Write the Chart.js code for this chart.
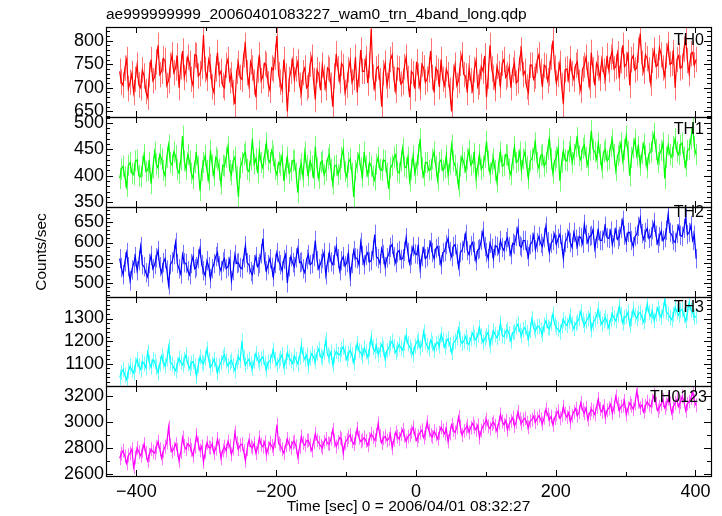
<!DOCTYPE html>
<html>
<head>
<meta charset="utf-8">
<title>ae999999999_20060401083227_wam0_trn_4band_long.qdp</title>
<script src="https://cdn.jsdelivr.net/npm/chart.js@4.4.1/dist/chart.umd.min.js"></script>
<style>
  html, body { margin: 0; padding: 0; background: #fff; }
  #wrap { position: relative; width: 722px; height: 516px; overflow: hidden; }
  .panel { position: absolute; left: 0; width: 722px; }
  .panel canvas { display: block; }
</style>
</head>
<body>
<div id="wrap"></div>
<script>
// WAM light curves, 2.5 s bins starting at t0 (sec from 2006/04/01 08:32:27)
const t0 = -424;
const binSize = 2.5;

const th0 = [
  735, 712, 705, 742, 760, 698, 712, 730, 690, 718, 748, 706, 700, 738, 725, 692, 680, 728, 760, 715,
  722, 755, 790, 728, 735, 762, 758, 705, 715, 748, 770, 732, 742, 768, 700, 745, 778, 722, 738, 765,
  752, 718, 705, 770, 768, 725, 730, 745, 812, 738, 720, 760, 745, 702, 690, 740, 775, 728, 735, 705,
  700, 748, 760, 715, 728, 690, 665, 735, 752, 722, 718, 770, 790, 732, 705, 755, 742, 712, 680, 738,
  770, 715, 725, 752, 748, 708, 695, 742, 738, 765, 810, 728, 712, 695, 760, 725, 650, 718, 735, 758,
  718, 740, 755, 705, 690, 732, 742, 700, 705, 750, 765, 715, 675, 738, 728, 695, 748, 722, 700, 742,
  738, 705, 660, 725, 772, 740, 715, 752, 745, 690, 705, 738, 758, 712, 722, 765, 690, 728, 780, 735,
  735, 762, 710, 748, 825, 722, 700, 740, 745, 715, 660, 732, 752, 705, 725, 760, 770, 718, 695, 742,
  740, 708, 712, 745, 765, 720, 680, 735, 730, 698, 755, 725, 700, 750, 742, 712, 718, 738, 778, 722,
  690, 742, 735, 702, 760, 718, 705, 740, 728, 695, 650, 722, 748, 705, 715, 752, 770, 728, 725, 690,
  742, 715, 695, 738, 758, 702, 712, 745, 735, 768, 680, 725, 790, 740, 722, 698, 745, 730, 705, 752,
  760, 722, 728, 745, 700, 738, 752, 710, 715, 762, 780, 728, 735, 702, 690, 748, 748, 718, 725, 758,
  770, 735, 702, 748, 745, 715, 730, 765, 800, 742, 710, 728, 752, 705, 665, 738, 740, 718, 762, 730,
  718, 748, 755, 712, 695, 740, 748, 765, 728, 705, 775, 738, 705, 752, 742, 720, 760, 735, 720, 768,
  738, 765, 778, 740, 745, 772, 720, 758, 790, 745, 750, 775, 705, 760, 768, 738, 742, 780, 815, 752,
  735, 770, 762, 738, 710, 758, 780, 745, 748, 785, 770, 742, 725, 768, 792, 750, 752, 775, 700, 760,
  768, 742, 745, 782, 805, 758, 730, 772, 775, 748, 760
];
const th1 = [
  395, 412, 418, 398, 380, 420, 425, 405, 402, 428, 430, 400, 398, 418, 440, 408, 410, 425, 385, 415,
  445, 422, 415, 440, 432, 410, 400, 435, 458, 425, 420, 445, 438, 412, 405, 430, 475, 428, 412, 440,
  428, 405, 395, 425, 440, 418, 372, 410, 425, 438, 410, 392, 448, 420, 400, 435, 430, 412, 385, 420,
  418, 435, 455, 410, 402, 428, 435, 398, 360, 415, 425, 440, 445, 412, 408, 430, 470, 422, 432, 405,
  448, 425, 415, 440, 462, 430, 425, 448, 438, 412, 402, 425, 420, 438, 390, 415, 435, 405, 410, 428,
  430, 405, 368, 412, 422, 398, 445, 420, 400, 428, 418, 395, 455, 415, 395, 425, 428, 402, 410, 432,
  440, 412, 385, 418, 420, 402, 412, 435, 450, 408, 398, 425, 432, 405, 360, 410, 425, 440, 415, 398,
  445, 418, 402, 425, 418, 400, 392, 422, 435, 412, 410, 430, 428, 405, 375, 415, 420, 435, 440, 408,
  405, 428, 452, 418, 415, 435, 390, 412, 438, 405, 420, 440, 470, 415, 400, 425, 425, 410, 412, 432,
  445, 418, 392, 425, 430, 410, 415, 438, 402, 422, 458, 428, 420, 405, 380, 418, 436, 425, 410, 432,
  448, 420, 425, 442, 395, 418, 440, 412, 418, 435, 465, 428, 405, 422, 432, 410, 388, 425, 445, 418,
  420, 440, 438, 412, 402, 430, 455, 425, 428, 445, 410, 432, 445, 418, 395, 428, 432, 448, 462, 425,
  415, 438, 440, 418, 425, 450, 470, 432, 405, 428, 435, 452, 390, 425, 448, 430, 428, 445, 455, 425,
  440, 455, 472, 438, 430, 452, 458, 435, 420, 448, 485, 450, 445, 432, 462, 440, 415, 445, 450, 428,
  432, 455, 468, 440, 410, 438, 445, 462, 428, 450, 475, 445, 400, 435, 452, 468, 438, 455, 420, 442,
  460, 438, 415, 442, 445, 465, 480, 450, 425, 440, 448, 462, 395, 435, 458, 440, 435, 455, 470, 445,
  440, 458, 462, 435, 418, 448, 450, 470, 492, 455, 440
];
const th2 = [
  560, 538, 520, 552, 575, 540, 505, 532, 548, 565, 530, 555, 590, 545, 540, 525, 515, 548, 568, 535,
  545, 562, 580, 540, 525, 550, 560, 532, 495, 545, 552, 570, 600, 548, 535, 522, 570, 550, 548, 530,
  520, 548, 565, 535, 540, 560, 585, 545, 530, 518, 555, 540, 510, 535, 548, 565, 575, 542, 530, 552,
  560, 535, 540, 558, 505, 530, 570, 548, 550, 538, 535, 562, 592, 550, 545, 528, 520, 545, 565, 540,
  548, 572, 610, 552, 530, 545, 560, 538, 515, 548, 575, 555, 545, 530, 558, 570, 500, 540, 565, 550,
  540, 562, 585, 550, 552, 535, 525, 558, 570, 545, 548, 565, 605, 555, 535, 548, 560, 575, 520, 550,
  575, 552, 545, 568, 590, 560, 530, 555, 565, 542, 550, 572, 515, 548, 580, 562, 560, 545, 600, 568,
  545, 568, 575, 552, 555, 580, 620, 565, 560, 548, 585, 570, 540, 562, 570, 588, 595, 565, 550, 575,
  580, 558, 560, 578, 612, 575, 548, 568, 590, 572, 570, 590, 535, 565, 585, 560, 565, 582, 600, 575,
  560, 585, 590, 568, 545, 575, 578, 595, 610, 578, 565, 590, 595, 572, 540, 575, 580, 598, 620, 580,
  570, 592, 600, 578, 555, 582, 585, 605, 628, 590, 575, 560, 598, 585, 560, 592, 590, 575, 605, 588,
  580, 602, 612, 590, 570, 598, 595, 615, 635, 592, 588, 605, 605, 582, 565, 595, 600, 618, 582, 600,
  615, 598, 590, 612, 640, 602, 575, 598, 605, 620, 595, 610, 620, 595, 560, 600, 610, 625, 600, 588,
  625, 608, 592, 615, 612, 598, 645, 620, 600, 615, 618, 632, 585, 610, 630, 605, 605, 622, 640, 612,
  610, 628, 595, 612, 632, 608, 615, 635, 655, 618, 600, 625, 625, 605, 590, 615, 620, 640, 660, 622,
  608, 625, 635, 610, 615, 632, 650, 618, 598, 615, 628, 605, 612, 630, 670, 625, 620, 605, 600, 622,
  640, 618, 615, 635, 660, 620, 625, 642, 605, 618, 560
];
const th3 = [
  1040, 1062, 1075, 1050, 1030, 1068, 1090, 1072, 1060, 1095, 1120, 1088, 1075, 1110, 1100, 1082, 1150, 1105, 1085, 1118,
  1110, 1085, 1060, 1098, 1135, 1112, 1090, 1120, 1175, 1105, 1100, 1082, 1070, 1095, 1125, 1108, 1095, 1118, 1140, 1100,
  1080, 1102, 1110, 1088, 1045, 1092, 1130, 1108, 1100, 1125, 1165, 1115, 1085, 1098, 1120, 1095, 1060, 1090, 1105, 1128,
  1140, 1112, 1090, 1105, 1115, 1092, 1070, 1108, 1130, 1115, 1200, 1125, 1095, 1110, 1120, 1098, 1080, 1112, 1145, 1118,
  1105, 1122, 1130, 1100, 1075, 1108, 1110, 1135, 1160, 1118, 1095, 1112, 1125, 1140, 1085, 1110, 1150, 1128, 1115, 1102,
  1135, 1118, 1100, 1128, 1180, 1140, 1120, 1138, 1090, 1125, 1145, 1130, 1110, 1148, 1165, 1132, 1125, 1152, 1205, 1140,
  1130, 1152, 1095, 1135, 1155, 1142, 1140, 1162, 1175, 1148, 1120, 1145, 1160, 1138, 1105, 1150, 1190, 1158, 1150, 1135,
  1170, 1152, 1130, 1165, 1215, 1172, 1155, 1180, 1140, 1162, 1185, 1168, 1120, 1158, 1170, 1188, 1200, 1175, 1150, 1165,
  1185, 1170, 1160, 1192, 1225, 1188, 1175, 1160, 1140, 1178, 1195, 1205, 1170, 1185, 1240, 1198, 1180, 1165, 1205, 1190,
  1160, 1188, 1195, 1178, 1230, 1205, 1175, 1198, 1210, 1185, 1150, 1192, 1200, 1215, 1255, 1208, 1190, 1200, 1220, 1195,
  1185, 1212, 1235, 1218, 1205, 1228, 1260, 1222, 1195, 1210, 1225, 1240, 1180, 1215, 1245, 1228, 1215, 1235, 1280, 1225,
  1220, 1242, 1250, 1232, 1200, 1238, 1240, 1262, 1275, 1245, 1225, 1250, 1260, 1238, 1210, 1248, 1300, 1258, 1245, 1265,
  1265, 1248, 1230, 1272, 1290, 1262, 1255, 1280, 1320, 1275, 1260, 1252, 1240, 1268, 1295, 1278, 1270, 1290, 1310, 1275,
  1255, 1278, 1285, 1300, 1330, 1292, 1270, 1288, 1300, 1318, 1250, 1280, 1295, 1310, 1340, 1298, 1275, 1290, 1305, 1285,
  1260, 1295, 1320, 1302, 1290, 1315, 1355, 1318, 1280, 1305, 1310, 1328, 1270, 1298, 1340, 1312, 1300, 1322, 1325, 1305,
  1285, 1315, 1365, 1325, 1310, 1332, 1290, 1318, 1345, 1322, 1305, 1335, 1380, 1328, 1320, 1305, 1295, 1318, 1350, 1330,
  1315, 1335, 1340, 1312, 1290, 1325, 1370, 1338, 1325, 1305, 1310
];
const th0123 = [
  2720, 2755, 2780, 2735, 2680, 2742, 2760, 2790, 2650, 2725, 2800, 2768, 2740, 2775, 2830, 2762, 2700, 2745, 2790, 2770,
  2760, 2805, 2850, 2790, 2720, 2775, 2810, 2842, 2960, 2820, 2770, 2795, 2830, 2785, 2700, 2768, 2880, 2815, 2790, 2832,
  2820, 2785, 2740, 2808, 2900, 2835, 2780, 2812, 2690, 2770, 2840, 2805, 2800, 2832, 2760, 2795, 2870, 2818, 2720, 2780,
  2810, 2778, 2850, 2815, 2750, 2795, 2920, 2838, 2790, 2822, 2830, 2775, 2700, 2790, 2860, 2812, 2800, 2835, 2760, 2805,
  2880, 2825, 2810, 2845, 2750, 2798, 2840, 2815, 2790, 2852, 2980, 2835, 2820, 2790, 2760, 2818, 2870, 2828, 2800, 2842,
  2850, 2812, 2730, 2805, 2890, 2838, 2820, 2855, 2860, 2822, 2780, 2845, 2910, 2860, 2840, 2815, 2800, 2848, 2870, 2835,
  2830, 2872, 2940, 2858, 2810, 2845, 2880, 2868, 2760, 2838, 2860, 2885, 2900, 2852, 2830, 2875, 2950, 2880, 2850, 2862,
  2880, 2855, 2820, 2868, 2910, 2885, 2860, 2902, 2990, 2892, 2840, 2875, 2890, 2858, 2870, 2905, 2800, 2862, 2920, 2888,
  2870, 2908, 2940, 2895, 2850, 2888, 2900, 2925, 2960, 2902, 2860, 2892, 2920, 2938, 2880, 2912, 3000, 2935, 2900, 2885,
  2930, 2905, 2870, 2918, 2960, 2935, 2910, 2948, 2850, 2912, 2980, 2940, 2920, 2958, 3040, 2965, 2900, 2932, 2950, 2972,
  2920, 2958, 2990, 2962, 2940, 2975, 2880, 2935, 2970, 2992, 3020, 2968, 2950, 2985, 3000, 2972, 2930, 2995, 3060, 3005,
  2980, 3012, 2940, 2985, 3010, 3035, 2970, 3002, 3080, 3025, 2990, 3018, 3030, 2995, 2960, 3008, 3020, 3045, 3000, 3028,
  3050, 3022, 2990, 3035, 3100, 3058, 3020, 3045, 2980, 3032, 3060, 3085, 3030, 3052, 3120, 3065, 3040, 3072, 3000, 3048,
  3080, 3105, 3050, 3078, 3150, 3095, 3070, 3112, 3020, 3068, 3100, 3085, 3060, 3118, 3180, 3102, 3080, 3125, 3040, 3092,
  3110, 3138, 3070, 3115, 3200, 3142, 3090, 3122, 3130, 3165, 3060, 3108, 3150, 3128, 3100, 3145, 3240, 3158, 3110, 3135,
  3080, 3125, 3160, 3132, 3120, 3168, 3210, 3145, 3090, 3118, 3140, 3172, 3110, 3138, 3180, 3148, 3070, 3122, 3150, 3175,
  3120, 3155, 3200, 3168, 3090, 3142, 3160, 3188, 3230, 3165, 3130
];

const bandNames = ['TH0', 'TH1', 'TH2', 'TH3', 'TH0123'];
const bandData = [th0, th1, th2, th3, th0123];
// typical 1-sigma error bar per band (light vertical bars)
const bandErr = [27, 20, 24, 34, 54];
const bandColors = ['#ff0000', '#00ff00', '#0000ff', '#00ffff', '#ff00ff'];
const errColors = ['rgba(255,0,0,0.55)', 'rgba(0,255,0,0.55)', 'rgba(0,0,255,0.55)',
                   'rgba(0,255,255,0.55)', 'rgba(255,0,255,0.55)'];

// axis limits and tick labels
const xMin = -443.5;
const xMax = 422.3;
const xTicks = [-400, -200, 0, 200, 400];
const yMins = [638, 341, 465, 1002, 2582];
const yMaxs = [829, 511, 688, 1395, 3281];
const yTicks = [
  [650, 700, 750, 800],
  [350, 400, 450, 500],
  [500, 550, 600, 650],
  [1100, 1200, 1300],
  [2600, 2800, 3000, 3200]
];
const yMajor = [50, 50, 50, 100, 200];
const yMinor = [10, 10, 10, 20, 100];

// layout of the stacked panels (page pixels)
const edges = [27, 117, 207, 297, 386, 476];
const labelX = [704, 704, 704, 704, 707];
const labelDy = [17.5, 16.5, 9.5, 14.5, 16];
const PAD = 16;
const FONT = '"Liberation Sans", Arial, Helvetica, sans-serif';

function fmtTick(v) {
    return v < 0 ? '\u2212' + Math.abs(v) : String(v);
}

function panelDecor(k) {
    return {
        id: 'panelDecor' + k,
        beforeDatasetsDraw(chart) {
            // error bars under the light curve
            const { ctx, chartArea: a, scales: { x, y } } = chart;
            ctx.save();
            ctx.beginPath();
            ctx.rect(a.left, a.top, a.right - a.left, a.bottom - a.top);
            ctx.clip();
            ctx.strokeStyle = errColors[k];
            ctx.lineWidth = 1;
            ctx.beginPath();
            bandData[k].forEach((v, i) => {
                const px = Math.round(x.getPixelForValue(t0 + i * binSize)) + 0.5;
                ctx.moveTo(px, y.getPixelForValue(v - bandErr[k]));
                ctx.lineTo(px, y.getPixelForValue(v + bandErr[k]));
            });
            ctx.stroke();
            ctx.restore();
        },
        afterDatasetsDraw(chart) {
            const { ctx, chartArea: a, scales: { x, y } } = chart;
            ctx.save();
            ctx.strokeStyle = '#000';
            ctx.lineWidth = 1;
            ctx.beginPath();
            // time ticks on top and bottom of every panel
            for (let v = Math.ceil(x.min / 100) * 100; v <= x.max; v += 100) {
                const px = Math.round(x.getPixelForValue(v)) + 0.5;
                const len = v % 200 === 0 ? 6 : 4;
                ctx.moveTo(px, a.top); ctx.lineTo(px, a.top + len);
                ctx.moveTo(px, a.bottom); ctx.lineTo(px, a.bottom - len);
            }
            // count ticks on both sides
            for (let v = Math.ceil(y.min / yMinor[k]) * yMinor[k]; v <= y.max; v += yMinor[k]) {
                const py = Math.round(y.getPixelForValue(v)) + 0.5;
                const len = v % yMajor[k] === 0 ? 7 : 4;
                ctx.moveTo(a.left, py); ctx.lineTo(a.left + len, py);
                ctx.moveTo(a.right, py); ctx.lineTo(a.right - len, py);
            }
            ctx.stroke();
            // frame: shared edges land on the same pixel row
            ctx.lineWidth = 1.2;
            const L = Math.round(a.left) + 0.5, R = Math.round(a.right) + 0.5;
            const T = Math.round(a.top) + 0.5, B = Math.round(a.bottom) + 0.5;
            ctx.strokeRect(L, T, R - L, B - T);

            ctx.fillStyle = '#000';
            ctx.font = '16px ' + FONT;
            ctx.textAlign = 'right';
            ctx.textBaseline = 'alphabetic';
            ctx.fillText(bandNames[k], labelX[k], a.top + labelDy[k]);
            ctx.restore();
        }
    };
}

function makePanel(k) {
    const isFirst = k === 0;
    const isLast = k === bandNames.length - 1;
    const top = edges[k];
    const bottom = edges[k + 1];
    const canvasTop = isFirst ? 0 : top - PAD;
    const canvasBottom = isLast ? 516 : bottom + PAD;

    const div = document.createElement('div');
    div.className = 'panel';
    div.style.top = canvasTop + 'px';
    div.style.height = (canvasBottom - canvasTop) + 'px';
    const canvas = document.createElement('canvas');
    canvas.width = 722;
    canvas.height = canvasBottom - canvasTop;
    div.appendChild(canvas);
    document.getElementById('wrap').appendChild(div);

    const points = bandData[k].map((v, i) => ({ x: t0 + i * binSize, y: v }));

    new Chart(canvas, {
        type: 'line',
        data: {
            datasets: [{
                label: bandNames[k],
                data: points,
                borderColor: bandColors[k],
                borderWidth: 1.2,
                pointRadius: 0,
                tension: 0,
                fill: false
            }]
        },
        options: {
            responsive: false,
            animation: false,
            events: [],
            layout: {
                padding: {
                    left: 0,
                    right: 11,
                    top: isFirst ? 0 : PAD,
                    bottom: isLast ? 0 : PAD
                }
            },
            plugins: {
                legend: { display: false },
                tooltip: { enabled: false },
                title: {
                    display: isFirst,
                    text: 'ae999999999_20060401083227_wam0_trn_4band_long.qdp',
                    align: 'start',
                    fullSize: false,
                    color: '#000',
                    font: { family: FONT, size: 15.5, weight: 'normal', lineHeight: '18px' },
                    padding: { top: 6, bottom: 3 }
                }
            },
            scales: {
                x: {
                    type: 'linear',
                    min: xMin,
                    max: xMax,
                    display: isLast,
                    grid: { display: false, drawTicks: false },
                    border: { display: false },
                    afterBuildTicks: (scale) => { scale.ticks = xTicks.map(v => ({ value: v })); },
                    afterFit: (scale) => { scale.height = isLast ? 40 : 0; },
                    ticks: {
                        autoSkip: false,
                        maxRotation: 0,
                        padding: 5,
                        color: '#000',
                        font: { family: FONT, size: 18 },
                        callback: (v) => fmtTick(v)
                    },
                    title: {
                        display: isLast,
                        text: 'Time [sec] 0 = 2006/04/01 08:32:27',
                        color: '#000',
                        font: { family: FONT, size: 15.5, lineHeight: '18px' },
                        padding: { top: 0, bottom: 0 }
                    }
                },
                y: {
                    type: 'linear',
                    min: yMins[k],
                    max: yMaxs[k],
                    grid: { display: false, drawTicks: false },
                    border: { display: false },
                    afterBuildTicks: (scale) => { scale.ticks = yTicks[k].map(v => ({ value: v })); },
                    afterFit: (scale) => { scale.width = 106; },
                    ticks: {
                        autoSkip: false,
                        padding: 2,
                        color: '#000',
                        font: { family: FONT, size: 18 },
                        callback: (v) => fmtTick(v)
                    },
                    title: {
                        display: k === 2,
                        text: 'Counts/sec',
                        color: '#000',
                        font: { family: FONT, size: 15.5, lineHeight: '18px' },
                        padding: { top: 33, bottom: 0 }
                    }
                }
            }
        },
        plugins: [panelDecor(k)]
    });
}

for (let k = 0; k < bandNames.length; k++) {
    makePanel(k);
}
</script>
</body>
</html>
